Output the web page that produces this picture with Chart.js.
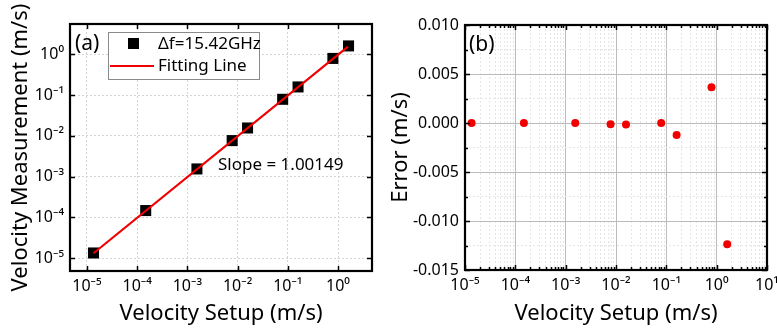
<!DOCTYPE html>
<html lang="en">
<head>
<meta charset="UTF-8">
<title>Velocity Measurement vs Setup</title>
<script src="https://cdn.jsdelivr.net/npm/chart.js"></script>
<style>
  body { margin: 0; background: #fff; }
  #wrap { position: relative; width: 777px; height: 328px; }
  canvas { position: absolute; top: 0; }
</style>
</head>
<body>
<div id="wrap">
  <canvas id="left" width="390" height="328" style="left:0"></canvas>
  <canvas id="right" width="387" height="328" style="left:390px"></canvas>
</div>
<script>
// data
const setupVel = [1.35e-5, 1.48e-4, 1.55e-3, 7.8e-3, 1.58e-2, 7.9e-2, 0.16, 0.79, 1.62];
const measVel  = [1.35e-5, 1.48e-4, 1.55e-3, 7.67e-3, 1.565e-2, 7.9e-2, 0.1588, 0.7936, 1.6076];
const errVel   = [0, 0, 0, -0.00013, -0.00015, 0, -0.00122, 0.00364, -0.01238];
const fitX = [1.35e-5, 1.58];
const fitY = [1.33e-5, 1.54];
const decadesA = [-5, -4, -3, -2, -1, 0];
const decadesB = [-5, -4, -3, -2, -1, 0, 1];
const errTicks = [-0.015, -0.0125, -0.01, -0.0075, -0.005, -0.0025, 0, 0.0025, 0.005, 0.0075, 0.01];
const errLabels = ['-0.015', '', '-0.010', '', '-0.005', '', '0.000', '', '0.005', '', '0.010'];

Chart.defaults.font.family = '"Noto Sans", "Open Sans", sans-serif';
Chart.defaults.color = '#000';

const SUP = {'-': '\u207B', '0': '\u2070', '1': '\u00B9', '2': '\u00B2', '3': '\u00B3',
             '4': '\u2074', '5': '\u2075', '6': '\u2076', '7': '\u2077', '8': '\u2078', '9': '\u2079'};
function powLabel(v) {
    const e = Math.round(Math.log10(v));
    if (Math.abs(Math.log10(v) - e) > 1e-6) return '';
    return '10' + String(e).split('').map(c => SUP[c]).join('');
}

function logTicks(decades, withMinor) {
    const out = [];
    decades.forEach((d, i) => {
        out.push({ value: Math.pow(10, d), major: true });
        if (withMinor && i < decades.length - 1) {
            for (let m = 2; m <= 9; m++) out.push({ value: m * Math.pow(10, d), major: false });
        }
    });
    return out;
}

function fixBox(w, h) {
    return scale => {
        if (w !== null) scale.width = w;
        if (h !== null) scale.height = h;
        scale.paddingLeft = 0; scale.paddingRight = 0;
        scale.paddingTop = 0; scale.paddingBottom = 0;
    };
}

// frame with inward ticks on all four sides
const framePlugin = {
    id: 'frame',
    afterDraw(chart) {
        const { ctx, chartArea: a, scales } = chart;
        ctx.save();
        ctx.strokeStyle = '#000';
        ctx.lineWidth = 1.5;
        ctx.beginPath();
        scales.x.ticks.forEach(t => {
            const len = t.major ? 5 : 3;
            const px = Math.round(scales.x.getPixelForValue(t.value)) + 0.5;
            ctx.moveTo(px, a.bottom); ctx.lineTo(px, a.bottom - len);
            ctx.moveTo(px, a.top); ctx.lineTo(px, a.top + len);
        });
        scales.y.ticks.forEach(t => {
            const len = t.major ? 5 : 3;
            const py = Math.round(scales.y.getPixelForValue(t.value)) + 0.5;
            ctx.moveTo(a.left, py); ctx.lineTo(a.left + len, py);
            ctx.moveTo(a.right, py); ctx.lineTo(a.right - len, py);
        });
        ctx.stroke();
        ctx.lineWidth = 2.2;
        ctx.strokeRect(a.left, a.top, a.right - a.left, a.bottom - a.top);
        ctx.restore();
    }
};

// panel letters, notes and the inset legend
const notesPlugin = {
    id: 'notes',
    afterDraw(chart, args, opts) {
        const ctx = chart.ctx;
        ctx.save();
        ctx.fillStyle = '#000';
        ctx.textBaseline = 'middle';
        (opts.texts || []).forEach(t => {
            ctx.font = t.size + 'px "Noto Sans", sans-serif';
            ctx.fillText(t.text, t.x, t.y);
        });
        if (opts.legend) {
            const L = opts.legend;
            ctx.fillStyle = '#fff';
            ctx.fillRect(L.x, L.y, L.w, L.h);
            ctx.strokeStyle = '#8a8a8a';
            ctx.lineWidth = 1;
            ctx.strokeRect(L.x + 0.5, L.y + 0.5, L.w, L.h);
            ctx.font = '17px "Noto Sans", sans-serif';
            const pts = chart.data.datasets[1];
            const fit = chart.data.datasets[0];
            ctx.fillStyle = pts.backgroundColor;
            ctx.fillRect(L.x + 20, L.y + 6, 11, 11);
            ctx.fillStyle = '#000';
            ctx.fillText(pts.label, L.x + 50, L.y + 12);
            ctx.strokeStyle = fit.borderColor;
            ctx.lineWidth = 2;
            ctx.beginPath();
            ctx.moveTo(L.x + 2, L.y + 34); ctx.lineTo(L.x + 46, L.y + 34);
            ctx.stroke();
            ctx.fillText(fit.label, L.x + 50, L.y + 34);
        }
        ctx.restore();
    }
};

new Chart(document.getElementById('left'), {
    type: 'scatter',
    data: {
        datasets: [
            {
                type: 'line',
                label: 'Fitting Line',
                data: fitX.map((x, i) => ({ x: x, y: fitY[i] })),
                borderColor: '#f00000',
                borderWidth: 2.2,
                pointRadius: 0,
                fill: false
            },
            {
                label: '\u0394f=15.42GHz',
                data: setupVel.map((x, i) => ({ x: x, y: measVel[i] })),
                pointStyle: 'rect',
                pointRadius: 7.8,
                backgroundColor: '#000',
                borderWidth: 0
            }
        ]
    },
    options: {
        responsive: false,
        animation: false,
        layout: { padding: { left: 0, top: 24, right: 18, bottom: 0 } },
        plugins: {
            legend: { display: false },
            tooltip: { enabled: false },
            notes: {
                texts: [
                    { text: '(a)', x: 75, y: 44, size: 21 },
                    { text: 'Slope = 1.00149', x: 218, y: 165, size: 17 }
                ],
                legend: { x: 108, y: 32, w: 151, h: 47 }
            }
        },
        scales: {
            x: {
                type: 'logarithmic',
                min: 4.6e-6, max: 4.75,
                afterBuildTicks: s => { s.ticks = logTicks(decadesA, false); },
                afterFit: fixBox(null, 57),
                ticks: { autoSkip: false, maxRotation: 0, padding: 6, font: { size: 16 }, callback: v => powLabel(v) },
                grid: { drawTicks: false, color: '#d4d4d4', lineWidth: 1 },
                border: { display: false, dash: [2, 2] },
                title: { display: true, text: 'Velocity Setup (m/s)', font: { size: 22, lineHeight: 1 }, padding: { top: 0, bottom: 3 } }
            },
            y: {
                type: 'logarithmic',
                min: 4.88e-6, max: 5.54,
                afterBuildTicks: s => { s.ticks = logTicks(decadesA, false); },
                afterFit: fixBox(70, null),
                ticks: { autoSkip: false, padding: 6, font: { size: 16 }, callback: v => powLabel(v) },
                grid: { drawTicks: false, color: '#d4d4d4', lineWidth: 1 },
                border: { display: false, dash: [2, 2] },
                title: { display: true, text: 'Velocity Measurement (m/s)', font: { size: 22, lineHeight: 1 }, padding: { top: 10, bottom: 0 } }
            }
        }
    },
    plugins: [framePlugin, notesPlugin]
});

new Chart(document.getElementById('right'), {
    type: 'scatter',
    data: {
        datasets: [
            {
                label: 'Error',
                data: setupVel.map((x, i) => ({ x: x, y: errVel[i] })),
                pointRadius: 4,
                backgroundColor: '#f00000',
                borderWidth: 0
            }
        ]
    },
    options: {
        responsive: false,
        animation: false,
        layout: { padding: { left: 0, top: 25, right: 10, bottom: 0 } },
        plugins: {
            legend: { display: false },
            tooltip: { enabled: false },
            notes: { texts: [{ text: '(b)', x: 79, y: 45, size: 21 }] }
        },
        scales: {
            x: {
                type: 'logarithmic',
                min: 1e-5, max: 10,
                afterBuildTicks: s => { s.ticks = logTicks(decadesB, true); },
                afterFit: fixBox(null, 58),
                ticks: { autoSkip: false, maxRotation: 0, padding: 6, font: { size: 16 }, callback: v => powLabel(v) },
                grid: { drawTicks: false, color: c => c.tick && c.tick.major ? '#bcbcbc' : '#e6e6e6', lineWidth: 1 },
                border: { display: false, dash: c => c.tick && c.tick.major ? [] : [2, 2] },
                title: { display: true, text: 'Velocity Setup (m/s)', font: { size: 22, lineHeight: 1 }, padding: { top: 0, bottom: 3 } }
            },
            y: {
                min: -0.015, max: 0.01,
                afterBuildTicks: s => { s.ticks = errTicks.map((v, i) => ({ value: v, major: errLabels[i] !== '' })); },
                afterFit: fixBox(75, null),
                ticks: { autoSkip: false, padding: 6, font: { size: 16 }, callback: (v, i) => errLabels[i] },
                grid: { drawTicks: false, color: c => c.tick && c.tick.major ? '#bcbcbc' : '#e6e6e6', lineWidth: 1 },
                border: { display: false, dash: c => c.tick && c.tick.major ? [] : [2, 2] },
                title: { display: true, text: 'Error (m/s)', font: { size: 22, lineHeight: 1 }, padding: { top: 0, bottom: 0 } }
            }
        }
    },
    plugins: [framePlugin, notesPlugin]
});
</script>
</body>
</html>
